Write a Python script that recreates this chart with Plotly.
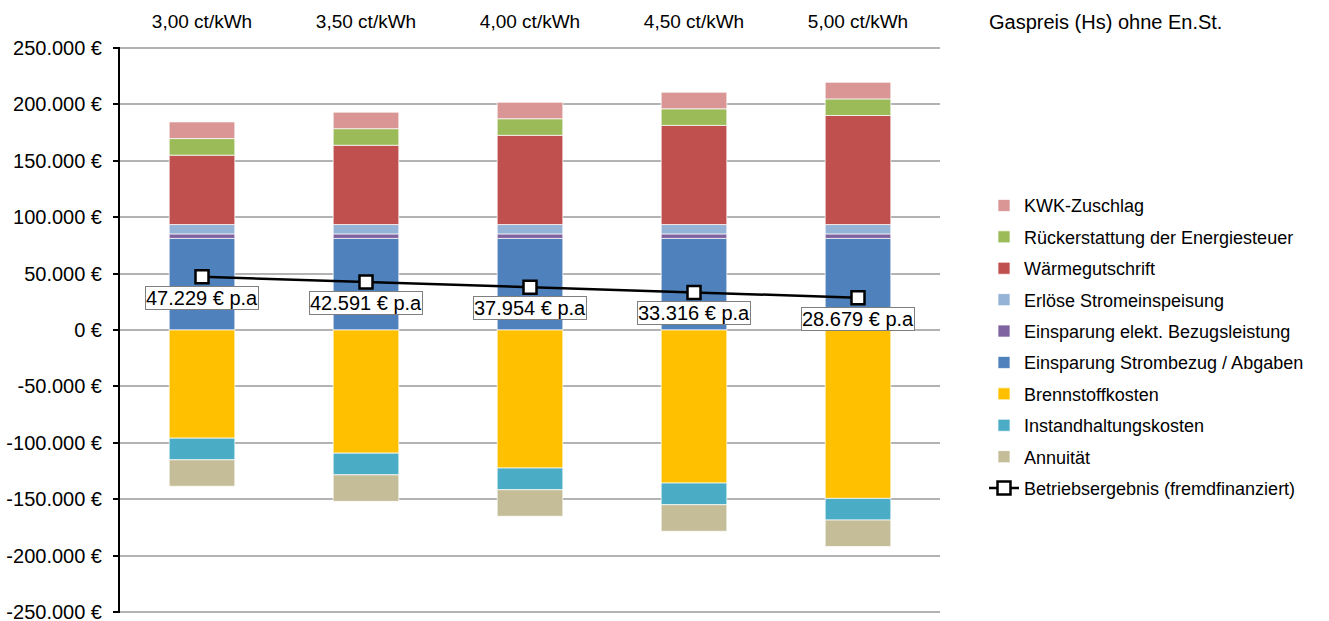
import plotly.graph_objects as go

categories = ["3,00 ct/kWh", "3,50 ct/kWh", "4,00 ct/kWh", "4,50 ct/kWh", "5,00 ct/kWh"]

# positive components (stacked bottom-up)
strombezug = [81200, 81200, 81200, 81200, 81200]
bezugsleistung = [4000, 4000, 4000, 4000, 4000]
stromeinspeisung = [8300, 8300, 8300, 8300, 8300]
waermegutschrift = [61500, 70300, 79100, 87900, 96700]
energiesteuer = [14700, 14700, 14700, 14700, 14700]
kwk_zuschlag = [14800, 14600, 14600, 14700, 14700]

# negative components (stacked top-down from zero)
brennstoff = [-95900, -109200, -122400, -135700, -149300]
instandhaltung = [-19200, -19200, -19200, -19200, -19200]
annuitaet = [-23400, -23500, -23500, -23500, -23400]

ergebnis = [47229, 42591, 37954, 33316, 28679]
ergebnis_labels = ["47.229 € p.a", "42.591 € p.a", "37.954 € p.a", "33.316 € p.a", "28.679 € p.a"]

y_ticks = [250000, 200000, 150000, 100000, 50000, 0, -50000, -100000, -150000, -200000, -250000]
y_ticktext = [f"{v:,.0f}".replace(",", ".") + " €" for v in y_ticks]

series = [
    ("Einsparung Strombezug / Abgaben", strombezug, "#4F81BD", 6),
    ("Einsparung elekt. Bezugsleistung", bezugsleistung, "#8064A2", 5),
    ("Erlöse Stromeinspeisung", stromeinspeisung, "#95B3D7", 4),
    ("Wärmegutschrift", waermegutschrift, "#C0504D", 3),
    ("Rückerstattung der Energiesteuer", energiesteuer, "#9BBB59", 2),
    ("KWK-Zuschlag", kwk_zuschlag, "#D99694", 1),
    ("Brennstoffkosten", brennstoff, "#FFC000", 7),
    ("Instandhaltungskosten", instandhaltung, "#4BACC6", 8),
    ("Annuität", annuitaet, "#C4BD97", 9),
]

FONT = "Liberation Sans"

fig = go.Figure()
for name, vals, color, rank in series:
    fig.add_trace(go.Bar(
        x=categories, y=vals, name=name, legendrank=rank, legendgroup=name,
        marker=dict(color=color, line=dict(color="rgba(255,255,255,0.7)", width=1)),
    ))

fig.add_trace(go.Scatter(
    x=categories, y=ergebnis, name="Betriebsergebnis (fremdfinanziert)",
    legendrank=10, legendgroup="erg", mode="lines+markers",
    line=dict(color="black", width=2.5),
    marker=dict(symbol="square", size=13, color="white", line=dict(color="black", width=2.5)),
))

for c, v, t in zip(categories, ergebnis, ergebnis_labels):
    fig.add_annotation(
        x=c, y=v, text=t, showarrow=False, yshift=-21,
        bgcolor="white", bordercolor="#7f7f7f", borderwidth=1, borderpad=0,
        font=dict(family=FONT, size=20, color="black"),
    )

fig.add_annotation(
    xref="paper", yref="paper", x=(987 - 120) / 820, y=1, yshift=25,
    xanchor="left", yanchor="middle", showarrow=False,
    text="Gaspreis (Hs) ohne En.St.", font=dict(family=FONT, size=20, color="black"),
)

# bottom gridline (at the lowest tick value)
fig.add_shape(
    type="line", xref="paper", yref="y", x0=0, x1=1, y0=y_ticks[-1], y1=y_ticks[-1],
    line=dict(color="#b3b3b3", width=1.5), layer="below",
)

fig.update_layout(
    width=1329, height=621,
    margin=dict(l=120, r=389, t=47, b=8, autoexpand=False),
    paper_bgcolor="white", plot_bgcolor="white",
    barmode="relative", bargap=0.6,
    font=dict(family=FONT, size=19, color="black"),
    showlegend=True,
    legend=dict(
        x=(984 - 120) / 820, y=(612 - 187) / 565, xanchor="left", yanchor="top",
        font=dict(family=FONT, size=18, color="black"),
        tracegroupgap=5, bgcolor="rgba(0,0,0,0)",
    ),
    xaxis=dict(
        type="category", side="top", showgrid=False, showline=False,
        ticks="", tickfont=dict(family=FONT, size=19), zeroline=False,
        ticklabelstandoff=14, automargin=False,
    ),
    xaxis2=dict(
        overlaying="x", type="linear", range=[-0.5, 4.5],
        anchor="free", position=0.5, side="bottom",
        showline=True, linecolor="black", linewidth=3,
        ticks="outside", ticklen=6, tickwidth=2, tickcolor="black",
        tickvals=[0.5, 1.5, 2.5, 3.5, 4.5], showticklabels=False,
        showgrid=False, zeroline=False, automargin=False,
    ),
    yaxis=dict(
        range=[-250900, 250900], tickvals=y_ticks, ticktext=y_ticktext,
        showgrid=True, gridcolor="#b3b3b3", gridwidth=1.5,
        showline=True, linecolor="black", linewidth=2,
        ticks="outside", ticklen=5, tickwidth=2, tickcolor="black",
        zeroline=False, tickfont=dict(family=FONT, size=20),
        ticklabelstandoff=7, automargin=False, ticklabeloverflow="allow",
    ),
)

fig.write_html(
    "out.html",
    config={"displayModeBar": False},
    post_script="document.body.style.margin='0px';document.body.style.overflow='hidden';",
)
